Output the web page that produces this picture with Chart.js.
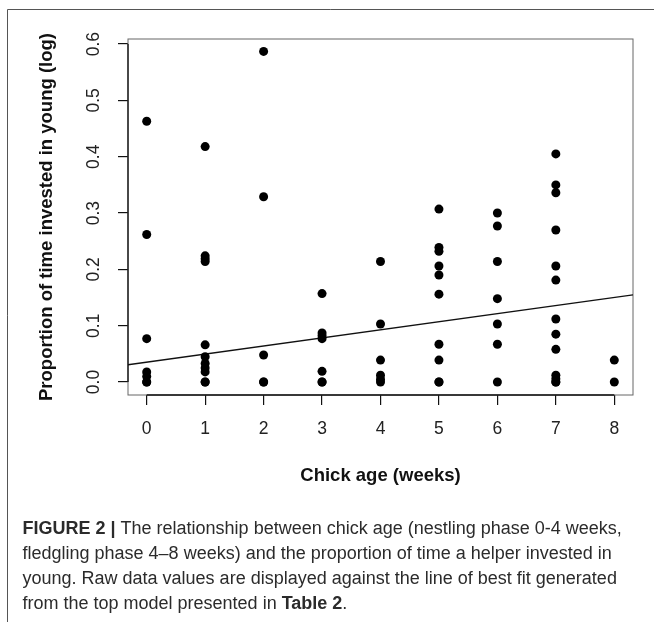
<!DOCTYPE html>
<html>
<head>
<meta charset="utf-8">
<script src="https://cdn.jsdelivr.net/npm/chart.js@4/dist/chart.umd.min.js"></script>
<style>
  html, body { margin: 0; padding: 0; background: #fff; }
  canvas { display: block; }
</style>
</head>
<body>
<canvas id="fig" width="654" height="623"></canvas>
<script>
// Chick age (weeks) for each observation
const chickAge = [
  0, 0, 0, 0, 0, 0, 0,
  1, 1, 1, 1, 1, 1, 1, 1, 1, 1, 1,
  2, 2, 2, 2, 2,
  3, 3, 3, 3, 3, 3, 3,
  4, 4, 4, 4, 4, 4,
  5, 5, 5, 5, 5, 5, 5, 5, 5, 5,
  6, 6, 6, 6, 6, 6, 6,
  7, 7, 7, 7, 7, 7, 7, 7, 7, 7, 7, 7, 7,
  8, 8
];
// Proportion of time a helper invested in young (log scale)
const proportion = [
  0.463, 0.262, 0.077, 0.018, 0.010, 0.0, 0.0,
  0.418, 0.224, 0.219, 0.214, 0.066, 0.045, 0.033, 0.025, 0.018, 0.0, 0.0,
  0.587, 0.329, 0.048, 0.0, 0.0,
  0.157, 0.087, 0.082, 0.077, 0.019, 0.0, 0.0,
  0.214, 0.103, 0.039, 0.012, 0.005, 0.0,
  0.307, 0.239, 0.232, 0.206, 0.190, 0.156, 0.067, 0.039, 0.0, 0.0,
  0.300, 0.277, 0.214, 0.148, 0.103, 0.067, 0.0,
  0.405, 0.350, 0.336, 0.270, 0.206, 0.181, 0.112, 0.085, 0.058, 0.012, 0.006, 0.0, 0.0,
  0.039, 0.0
];
// Line of best fit from the top model
const fitIntercept = 0.0353;
const fitSlope = 0.01436;

// Axis ticks
const xTicks = [0, 1, 2, 3, 4, 5, 6, 7, 8];
const yTicks = [0.0, 0.1, 0.2, 0.3, 0.4, 0.5, 0.6];
const xRange = [-0.32, 8.32];
const yRange = [-0.023, 0.609];

const captionLines = [
  [["FIGURE 2 | ", true], ["The relationship between chick age (nestling phase 0-4 weeks,", false]],
  [["fledgling phase 4\u20138 weeks) and the proportion of time a helper invested in", false]],
  [["young. Raw data values are displayed against the line of best fit generated", false]],
  [["from the top model presented in ", false], ["Table 2", true], [".", false]]
];

const FONT = "'Liberation Sans', Arial, Helvetica, sans-serif";

const points = chickAge.map((a, i) => ({ x: a, y: proportion[i] }));
const fitLine = xRange.map(a => ({ x: a, y: fitIntercept + fitSlope * a }));

// Plot box, partial axis lines (first to last tick) and figure frame + caption
const decorations = {
  id: 'decorations',
  beforeDatasetsDraw(chart) {
    const { ctx, chartArea: a, scales } = chart;
    ctx.save();
    ctx.strokeStyle = '#666';
    ctx.lineWidth = 1;
    ctx.strokeRect(a.left, a.top, a.right - a.left, a.bottom - a.top);
    ctx.strokeStyle = '#111';
    ctx.lineWidth = 1.3;
    ctx.beginPath();
    ctx.moveTo(scales.x.getPixelForValue(xTicks[0]), a.bottom);
    ctx.lineTo(scales.x.getPixelForValue(xTicks[xTicks.length - 1]), a.bottom);
    ctx.moveTo(a.left, scales.y.getPixelForValue(yTicks[0]));
    ctx.lineTo(a.left, scales.y.getPixelForValue(yTicks[yTicks.length - 1]));
    ctx.stroke();
    ctx.restore();
  },
  afterDraw(chart) {
    const { ctx } = chart;
    ctx.save();
    // frame
    ctx.strokeStyle = '#555';
    ctx.lineWidth = 1;
    ctx.beginPath();
    ctx.moveTo(654, 9.5);
    ctx.lineTo(7.5, 9.5);
    ctx.lineTo(7.5, 622);
    ctx.stroke();
    // caption
    ctx.fillStyle = '#2b2b2b';
    ctx.textBaseline = 'alphabetic';
    ctx.textAlign = 'left';
    const size = 18;
    captionLines.forEach((segs, i) => {
      let x = 22.5;
      const y = 533.5 + i * 25.3;
      segs.forEach(([txt, bold]) => {
        ctx.font = (bold ? 'bold ' : '') + size + 'px ' + FONT;
        ctx.fillText(txt, x, y);
        x += ctx.measureText(txt).width;
      });
    });
    ctx.restore();
  }
};

new Chart(document.getElementById('fig'), {
  type: 'scatter',
  data: {
    datasets: [
      {
        label: 'Observations',
        data: points,
        backgroundColor: '#000',
        borderWidth: 0,
        pointRadius: 4.5,
        pointHoverRadius: 4.5
      },
      {
        type: 'line',
        label: 'Best fit',
        data: fitLine,
        borderColor: '#111',
        borderWidth: 1.4,
        pointRadius: 0,
        fill: false,
        tension: 0
      }
    ]
  },
  options: {
    responsive: false,
    animation: false,
    devicePixelRatio: 1,
    layout: { padding: { left: 0, top: 39, right: 21, bottom: 128 } },
    plugins: { legend: { display: false }, tooltip: { enabled: false } },
    scales: {
      x: {
        type: 'linear',
        min: xRange[0],
        max: xRange[1],
        afterFit(scale) { scale.height = 100; },
        afterBuildTicks(scale) { scale.ticks = xTicks.map(v => ({ value: v })); },
        border: { display: false },
        grid: { drawOnChartArea: false, drawTicks: true, tickLength: 10, color: '#111', lineWidth: 1.2 },
        ticks: {
          padding: 14,
          color: '#222',
          font: { family: FONT, size: 17.5 },
          maxRotation: 0,
          minRotation: 0,
          callback: v => String(v)
        },
        title: {
          display: true,
          text: 'Chick age (weeks)',
          color: '#111',
          font: { family: FONT, size: 18.5, weight: 'bold' },
          padding: { top: 0, bottom: 8.4 }
        }
      },
      y: {
        type: 'linear',
        min: yRange[0],
        max: yRange[1],
        afterFit(scale) { scale.width = 128; },
        afterBuildTicks(scale) { scale.ticks = yTicks.map(v => ({ value: v })); },
        border: { display: false },
        grid: { drawOnChartArea: false, drawTicks: true, tickLength: 10, color: '#111', lineWidth: 1.2 },
        ticks: {
          padding: 12,
          color: '#222',
          crossAlign: 'center',
          minRotation: 90,
          maxRotation: 90,
          font: { family: FONT, size: 17.5 },
          callback: v => Number(v).toFixed(1)
        },
        title: {
          display: true,
          text: 'Proportion of time invested in young (log)',
          color: '#111',
          font: { family: FONT, size: 18.5, weight: 'bold' },
          padding: { top: 36, bottom: 0 }
        }
      }
    }
  },
  plugins: [decorations]
});
</script>
</body>
</html>
